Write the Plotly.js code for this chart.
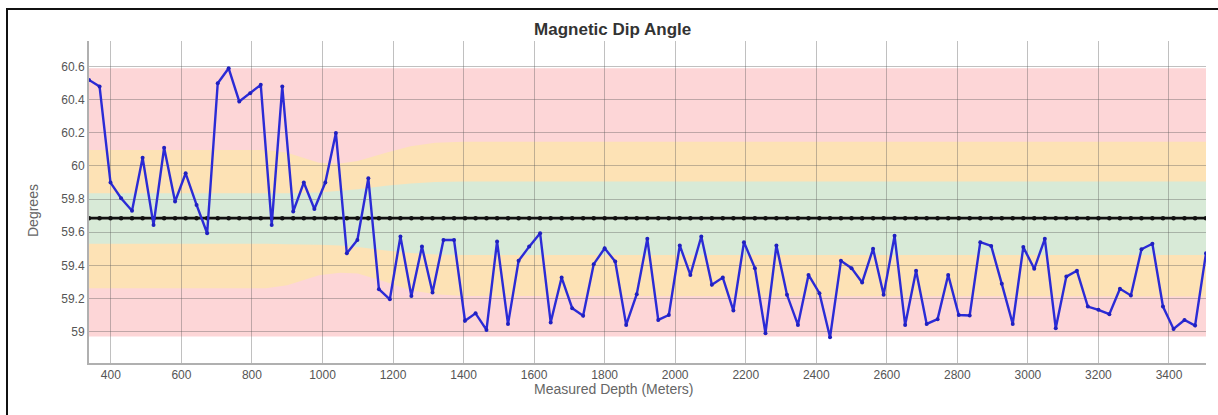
<!DOCTYPE html>
<html><head><meta charset="utf-8">
<script src="https://cdn.plot.ly/plotly-3.0.1.min.js"></script>
<style>
html,body{margin:0;padding:0;background:#fff;overflow:hidden;}
#wrap{position:relative;width:1218px;height:415px;}
#chart{position:absolute;left:0;top:0;width:1218px;height:415px;}
#frame{position:absolute;left:6px;top:8px;right:0;bottom:0;border-top:2px solid #111;border-left:2px solid #111;pointer-events:none;}
</style></head><body>
<div id="wrap"><div id="chart"></div><div id="frame"></div></div>
<script>
// Survey stations (measured depth, m)
const depth = [338,368,399,429,460,490,521,551,582,612,643,673,703,734,764,795,825,856,886,917,
947,977,1008,1038,1069,1099,1130,1160,1191,1221,1252,1282,1312,1343,1373,1404,1434,1465,1495,1526,
1556,1586,1617,1647,1678,1708,1739,1769,1800,1830,1861,1891,1921,1952,1982,2013,2043,2074,2104,2135,
2165,2195,2226,2256,2287,2317,2348,2378,2409,2439,2470,2500,2530,2561,2591,2622,2652,2683,2713,2744,
2774,2804,2835,2865,2896,2926,2957,2987,3018,3048,3079,3109,3139,3170,3200,3231,3261,3292,3322,3353,
3383,3413,3444,3474,3505];

// Magnetic dip angle (degrees)
const dip = [60.52,60.48,59.90,59.805,59.73,60.05,59.644,60.11,59.785,59.956,59.765,59.594,60.50,60.59,60.39,60.44,60.49,59.644,60.48,59.725,
59.90,59.74,59.90,60.20,59.473,59.553,59.926,59.256,59.195,59.574,59.215,59.513,59.236,59.553,59.553,59.065,59.11,59.01,59.544,59.045,
59.427,59.513,59.594,59.055,59.326,59.141,59.095,59.407,59.503,59.423,59.04,59.226,59.56,59.07,59.10,59.52,59.342,59.574,59.282,59.326,
59.127,59.54,59.383,58.99,59.52,59.222,59.04,59.342,59.232,58.965,59.427,59.383,59.296,59.50,59.222,59.578,59.04,59.367,59.046,59.075,
59.342,59.10,59.097,59.54,59.517,59.288,59.046,59.51,59.379,59.56,59.02,59.332,59.367,59.151,59.131,59.105,59.258,59.218,59.497,59.53,
59.151,59.016,59.07,59.036,59.473];

// Reference (expected) dip
const meanDip = 59.685;

// Tolerance bands
const bandDepth = [338, 840, 900, 990, 1050, 1100, 1180, 1250, 1320, 1400, 3505];
const orangeTop = [60.097, 60.097, 60.08, 60.02, 60.015, 60.03, 60.08, 60.12, 60.14, 60.147, 60.147];
const greenTop  = [59.835, 59.835, 59.835, 59.84, 59.85, 59.86, 59.88, 59.895, 59.903, 59.906, 59.906];
const greenBot  = [59.53, 59.53, 59.528, 59.525, 59.52, 59.51, 59.49, 59.475, 59.465, 59.463, 59.463];
const orangeBot = [59.262, 59.262, 59.28, 59.34, 59.355, 59.35, 59.30, 59.25, 59.225, 59.215, 59.212];
const redTop = 60.59;
const redBot = 58.97;

// Axis ticks
const xTickVals = [400,600,800,1000,1200,1400,1600,1800,2000,2200,2400,2600,2800,3000,3200,3400];
const xTickText = ['400','600','800','1000','1200','1400','1600','1800','2000','2200','2400','2600','2800','3000','3200','3400'];
const yTickVals = [59,59.2,59.4,59.6,59.8,60,60.2,60.4,60.6];
const yTickText = ['59','59.2','59.4','59.6','59.8','60','60.2','60.4','60.6'];

// Text
const chartTitle = 'Magnetic Dip Angle';
const xTitle = 'Measured Depth (Meters)';
const yTitle = 'Degrees';

function bandPath(top, bot) {
  let p = 'M' + bandDepth[0] + ',' + top[0];
  for (let i = 1; i < bandDepth.length; i++) p += ' L' + bandDepth[i] + ',' + top[i];
  for (let i = bandDepth.length - 1; i >= 0; i--) p += ' L' + bandDepth[i] + ',' + bot[i];
  return p + ' Z';
}

const xMin = depth[0], xMax = depth[depth.length - 1];

const shapes = [
  {type:'rect', xref:'x', yref:'y', x0:xMin, x1:xMax, y0:redBot, y1:redTop, fillcolor:'#fdd6d7', line:{width:0}, layer:'below'},
  {type:'path', xref:'x', yref:'y', path:bandPath(orangeTop, orangeBot), fillcolor:'#fde2b5', line:{width:0}, layer:'below'},
  {type:'path', xref:'x', yref:'y', path:bandPath(greenTop, greenBot), fillcolor:'#d8ead7', line:{width:0}, layer:'below'}
];

const traces = [
  {x: depth, y: depth.map(() => meanDip), type:'scatter', mode:'lines+markers',
   line:{color:'#111', width:2.8}, marker:{color:'#111', size:4.5}, hoverinfo:'skip'},
  {x: depth, y: dip, type:'scatter', mode:'lines+markers',
   line:{color:'#2b2bd6', width:2.4}, marker:{color:'#2020c0', size:4}}
];

const annotations = [
  {text: xTitle, xref:'paper', yref:'paper', x:0.470, y:-0.082, xanchor:'center', yanchor:'middle',
   showarrow:false, font:{size:14, color:'#666'}},
  {text: yTitle, xref:'paper', yref:'paper', x:-0.050, y:0.4725, xanchor:'center', yanchor:'middle',
   textangle:-90, showarrow:false, font:{size:14, color:'#666'}}
];

const layout = {
  width:1218, height:415,
  margin:{l:89, r:12, t:41, b:52},
  paper_bgcolor:'rgba(0,0,0,0)', plot_bgcolor:'#fff',
  showlegend:false,
  font:{family:'Liberation Sans, Arial, sans-serif', color:'#555', size:12},
  title:{text:'<b>' + chartTitle + '</b>', x:0.503, xanchor:'center', y:0.93, yanchor:'middle',
         font:{family:'Liberation Sans, Arial, sans-serif', size:17, color:'#333'}},
  xaxis:{range:[xMin, xMax], tickvals:xTickVals, ticktext:xTickText, showgrid:true,
         gridcolor:'rgba(90,90,90,0.38)', gridwidth:1, zeroline:false,
         showline:true, linecolor:'#b0b0b0', linewidth:2, ticks:'',
         tickfont:{size:12, color:'#555'}},
  yaxis:{range:[58.81, 60.755], tickvals:yTickVals, ticktext:yTickText, showgrid:true,
         gridcolor:'rgba(90,90,90,0.38)', gridwidth:1, zeroline:false,
         showline:true, linecolor:'#b0b0b0', linewidth:2, ticks:'',
         tickfont:{size:12, color:'#555'}},
  shapes: shapes,
  annotations: annotations
};

Plotly.newPlot('chart', traces, layout, {displayModeBar:false, staticPlot:true});
</script>
</body></html>
